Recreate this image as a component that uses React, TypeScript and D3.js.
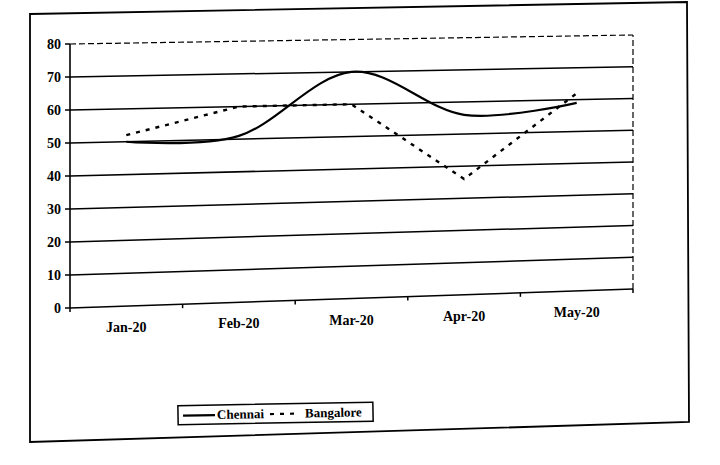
import React from "react";
import * as d3 from "d3";

const categories = ["Jan-20", "Feb-20", "Mar-20", "Apr-20", "May-20"];
const chennai = [50, 51, 70, 56, 59];
const bangalore = [52, 60, 60, 36, 62];
const yTicks = [0, 10, 20, 30, 40, 50, 60, 70, 80];
const seriesNames = ["Chennai", "Bangalore"];

const W = 720;
const H = 465;
// plot-area corners (scan is slightly skewed)
const TL: [number, number] = [70, 44];
const TR: [number, number] = [633, 35];
const BL: [number, number] = [70, 308];
const BR: [number, number] = [633, 289];

const FONT = "'Liberation Serif', 'Times New Roman', serif";

function proj(u: number, t: number): [number, number] {
  const bx = BL[0] + u * (BR[0] - BL[0]);
  const by = BL[1] + u * (BR[1] - BL[1]);
  const tx = TL[0] + u * (TR[0] - TL[0]);
  const ty = TL[1] + u * (TR[1] - TL[1]);
  return [bx + t * (tx - bx), by + t * (ty - by)];
}

export default function App() {
  const x = d3.scaleBand<string>().domain(categories).range([0, 1]);
  const y = d3.scaleLinear().domain([0, 80]).range([0, 1]);
  const bw = x.bandwidth();
  const cx = (i: number) => (x(categories[i]) as number) + bw / 2;

  const line = d3
    .line<number>()
    .x((d, i) => proj(cx(i), y(d))[0])
    .y((d, i) => proj(cx(i), y(d))[1]);
  const chennaiPath = line.curve(d3.curveCardinal.tension(0))(chennai) || "";
  const bangPath = line.curve(d3.curveLinear)(bangalore) || "";

  const seg = (a: [number, number], b: [number, number]) => `M${a[0]},${a[1]}L${b[0]},${b[1]}`;

  const boundaries = d3.range(0, categories.length + 1).map((i) => i / categories.length);

  return (
    <svg
      width={W}
      height={H}
      viewBox={`0 0 ${W} ${H}`}
      style={{ position: "absolute", left: 0, top: 0, background: "#fff" }}
    >
      <rect x={0} y={0} width={W} height={H} fill="#fff" />
      {/* outer chart frame */}
      <path d="M30,14L687,2L689,422L30,442Z" fill="none" stroke="#000" strokeWidth={1.8} />

      {/* gridlines */}
      {yTicks.map((v) => {
        const a = proj(0, y(v));
        const b = proj(1, y(v));
        const isTop = v === 80;
        return (
          <path
            key={"g" + v}
            d={seg(a, b)}
            stroke="#000"
            strokeWidth={isTop ? 1.2 : 1.5}
            strokeDasharray={isTop ? "6 3" : undefined}
            fill="none"
          />
        );
      })}
      {/* right dashed border */}
      <path d={seg(proj(1, 0), proj(1, 1))} stroke="#000" strokeWidth={1.2} strokeDasharray="6 3" fill="none" />
      {/* y axis */}
      <path d={seg(proj(0, 0), proj(0, 1))} stroke="#000" strokeWidth={1.6} fill="none" />
      {yTicks.map((v) => {
        const p = proj(0, y(v));
        return (
          <g key={"yt" + v}>
            <path d={`M${p[0] - 5},${p[1]}L${p[0]},${p[1]}`} stroke="#000" strokeWidth={1.5} />
            <text
              x={p[0] - 9}
              y={p[1] + 4.5}
              textAnchor="end"
              fontFamily={FONT}
              fontWeight="bold"
              fontSize={14}
              fill="#000"
            >
              {v}
            </text>
          </g>
        );
      })}
      {/* x ticks */}
      {boundaries.map((u, i) => {
        const p = proj(u, 0);
        return <path key={"xt" + i} d={`M${p[0]},${p[1]}L${p[0]},${p[1] + 4}`} stroke="#000" strokeWidth={1.5} />;
      })}
      {categories.map((c, i) => {
        const p = proj(cx(i), 0);
        return (
          <text
            key={c}
            x={p[0]}
            y={p[1] + 26}
            textAnchor="middle"
            fontFamily={FONT}
            fontWeight="bold"
            fontSize={14}
            fill="#000"
          >
            {c}
          </text>
        );
      })}

      {/* series */}
      <path d={chennaiPath} fill="none" stroke="#000" strokeWidth={2.2} />
      <path d={bangPath} fill="none" stroke="#000" strokeWidth={2.4} strokeDasharray="4 6" />

      {/* legend */}
      <g transform="rotate(-1, 275, 413)">
        <rect x={178} y={404} width={195} height={19} fill="#fff" stroke="#000" strokeWidth={1.5} />
        <line x1={183} y1={414} x2={215} y2={414} stroke="#000" strokeWidth={2.2} />
        <text x={217} y={418} fontFamily={FONT} fontWeight="bold" fontSize={13} fill="#000">
          {seriesNames[0]}
        </text>
        <line x1={270} y1={414} x2={300} y2={414} stroke="#000" strokeWidth={2.2} strokeDasharray="4 6" />
        <text x={305} y={418} fontFamily={FONT} fontWeight="bold" fontSize={13} fill="#000">
          {seriesNames[1]}
        </text>
      </g>
    </svg>
  );
}
